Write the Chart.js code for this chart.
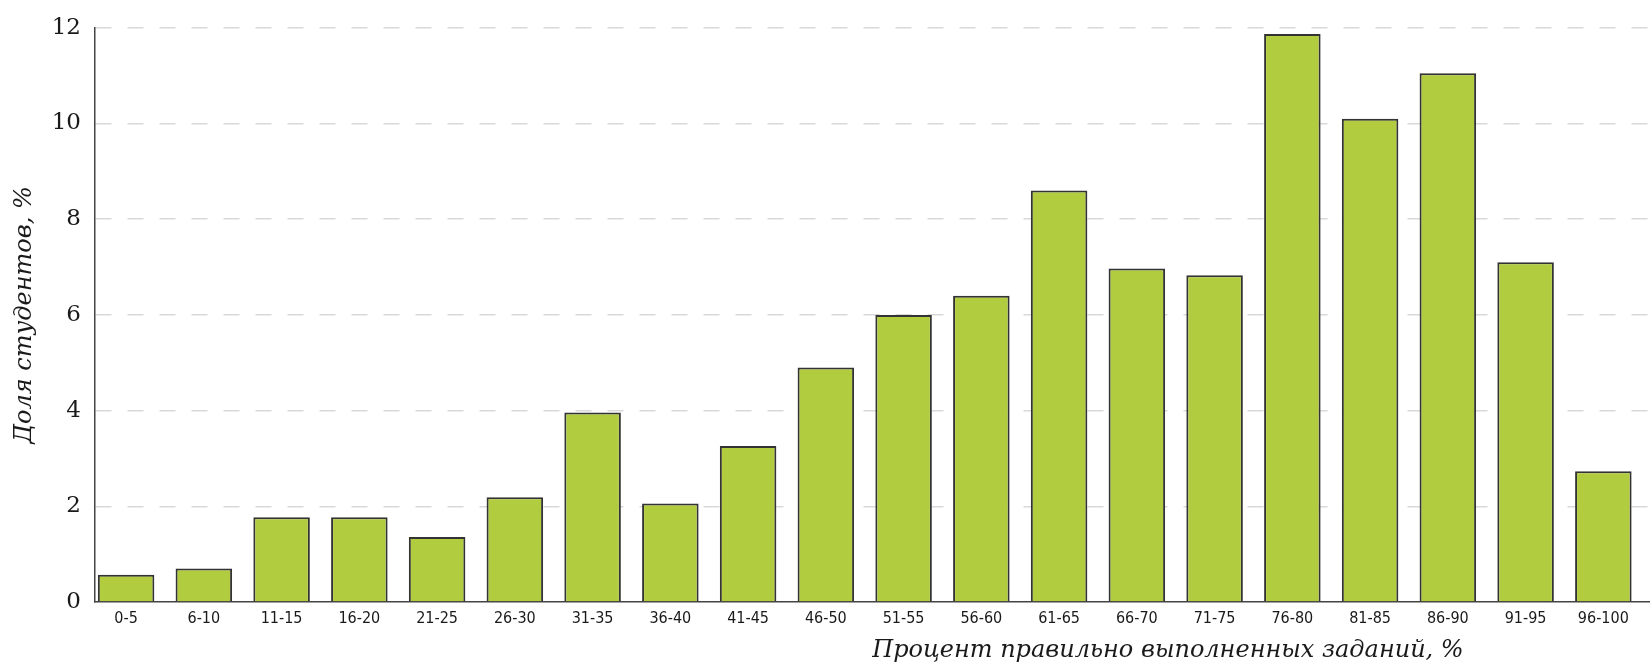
<!DOCTYPE html>
<html>
<head>
<meta charset="utf-8">
<script src="https://cdn.jsdelivr.net/npm/chart.js@4"></script>
<style>
    html, body { margin: 0; padding: 0; background: #fff; }
    #wrap { width: 1650px; height: 665px; }
</style>
</head>
<body>
<div id="wrap"><canvas id="scoreChart"></canvas></div>
<script>
// --- Data ---
const categories = [
    "0-5", "6-10", "11-15", "16-20", "21-25", "26-30", "31-35", "36-40", "41-45", "46-50",
    "51-55", "56-60", "61-65", "66-70", "71-75", "76-80", "81-85", "86-90", "91-95", "96-100"
];
const shareValues = [
    0.57, 0.70, 1.77, 1.77, 1.36, 2.19, 3.96, 2.06, 3.26, 4.90,
    6.00, 6.40, 8.60, 6.97, 6.83, 11.87, 10.10, 11.05, 7.10, 2.73
];
const yTicks = [0, 2, 4, 6, 8, 10, 12];

const xTitle = "Процент правильно выполненных заданий, %";
const yTitle = "Доля студентов, %";

// x title sits right of centre in the original, so draw it by hand
const xTitlePlugin = {
    id: 'xTitle',
    afterDraw(chart) {
        const ctx = chart.ctx;
        const area = chart.chartArea;
        ctx.save();
        ctx.font = 'italic 24px "DejaVu Serif"';
        ctx.fillStyle = '#1a1a1a';
        ctx.textAlign = 'center';
        ctx.textBaseline = 'middle';
        ctx.fillText(xTitle, area.left + (area.right - area.left) * 0.69, 651);
        ctx.restore();
    }
};

window.onload = function() {
    const ctx = document.getElementById('scoreChart').getContext('2d');
    new Chart(ctx, {
        type: 'bar',
        data: {
            datasets: [{
                label: yTitle,
                data: categories.map((c, i) => ({ x: i, y: shareValues[i] })),
                backgroundColor: '#b2cc40',
                borderColor: '#333',
                borderWidth: 2,
                barPercentage: 0.727,
                categoryPercentage: 1.0
            }]
        },
        options: {
            responsive: true,
            maintainAspectRatio: false,
            animation: false,
            layout: { padding: { top: 23, right: 0, left: 0, bottom: 0 } },
            plugins: {
                legend: { display: false },
                tooltip: { enabled: false }
            },
            scales: {
                x: {
                    type: 'linear',
                    offset: false,
                    min: -0.4,
                    max: 19.6,
                    afterBuildTicks: (scale) => {
                        scale.ticks = categories.map((c, i) => ({ value: i }));
                    },
                    afterFit: (scale) => { scale.height = 63; },
                    ticks: {
                        autoSkip: false,
                        maxRotation: 0,
                        padding: 7,
                        color: '#1a1a1a',
                        font: { family: '"DejaVu Sans Condensed", "DejaVu Sans"', size: 16 },
                        callback: (v) => categories[v] ?? ''
                    },
                    grid: { display: false, drawTicks: false, offset: false },
                    border: { display: true, color: '#444', width: 1.5 }
                },
                y: {
                    min: 0,
                    max: 12,
                    afterBuildTicks: (scale) => {
                        scale.ticks = yTicks.map(v => ({ value: v }));
                    },
                    afterFit: (scale) => { scale.width = 95; },
                    ticks: {
                        padding: 14,
                        color: '#1a1a1a',
                        font: { family: '"DejaVu Serif"', size: 23 }
                    },
                    grid: {
                        drawTicks: false,
                        color: (c) => c.tick && c.tick.value === 0 ? 'rgba(0,0,0,0)' : '#d9d9d9',
                        lineWidth: 1.5
                    },
                    border: { display: true, color: '#444', width: 1.5, dash: [16, 16], dashOffset: 0 },
                    title: {
                        display: true,
                        text: yTitle,
                        color: '#1a1a1a',
                        padding: { top: 10, bottom: 0 },
                        font: { family: '"DejaVu Serif"', size: 24, style: 'italic' }
                    }
                }
            }
        },
        plugins: [xTitlePlugin]
    });
};
</script>
</body>
</html>
